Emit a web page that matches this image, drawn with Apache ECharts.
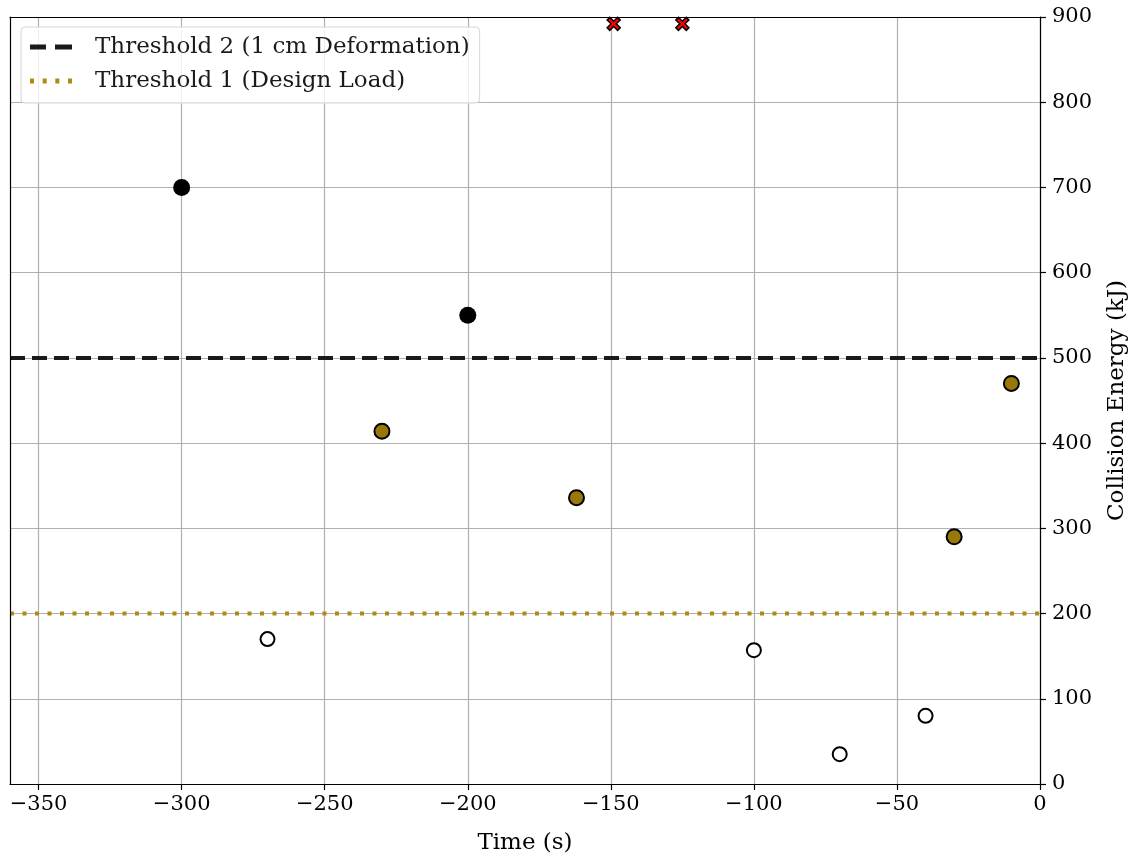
<!DOCTYPE html>
<html>
<head>
<meta charset="utf-8">
<script src="https://cdn.jsdelivr.net/npm/echarts@6.0.0/dist/echarts.min.js"></script>
<style>
html,body{margin:0;padding:0;background:#fff;}
#chart{width:1138px;height:856px;}
</style>
</head>
<body>
<div id="chart"></div>
<script>
// Data
const xTicks = [-350, -300, -250, -200, -150, -100, -50, 0];
const yTicks = [0, 100, 200, 300, 400, 500, 600, 700, 800, 900];
const blackPts = [[-300, 700], [-200, 550]];
const goldPts = [[-230, 414], [-162, 336], [-30, 290], [-10, 470]];
const hollowPts = [[-270, 170], [-100, 157], [-70, 35], [-40, 80]];
const redPts = [[-149, 892], [-125, 892]];
const threshold2 = 500;
const threshold1 = 200;
const xRange = [-360, 0];
const yRange = [0, 900];
const threshold2Label = 'Threshold 2 (1 cm Deformation)';
const threshold1Label = 'Threshold 1 (Design Load)';

const FONT = '"DejaVu Serif", serif';
const minus = v => String(v).replace('-', '\u2212');
const xPath = 'path://M2,0 L5,3 L8,0 L10,2 L7,5 L10,8 L8,10 L5,7 L2,10 L0,8 L3,5 L0,2 Z';
const dashIcon = 'path://M0,0H16V5H0Z M25,0H42V5H25Z';
const dotIcon = 'path://M0,0H4V5H0Z M12.7,0H16.7V5H12.7Z M25.3,0H29.3V5H25.3Z M38,0H42V5H38Z';

const chart = echarts.init(document.getElementById('chart'), null, {renderer: 'canvas'});
chart.setOption({
  animation: false,
  backgroundColor: '#fff',
  grid: {left: 10, right: 98, top: 17, bottom: 72, show: false, containLabel: false, outerBoundsMode: 'none'},
  legend: {
    left: 21, top: 27,
    orient: 'vertical',
    data: [
      {name: threshold2Label, icon: dashIcon},
      {name: threshold1Label, icon: dotIcon}
    ],
    backgroundColor: 'rgba(255,255,255,0.8)',
    borderColor: '#d5d5d5', borderWidth: 1, borderRadius: 4,
    padding: [7, 10, 9, 9],
    itemWidth: 42, itemHeight: 5, itemGap: 8,
    textStyle: {fontFamily: FONT, fontSize: 23, lineHeight: 26, color: '#1a1a1a', padding: [0, 0, 0, 18]}
  },
  xAxis: [{
    type: 'value', min: xRange[0], max: xRange[1],
    interval: 50,
    name: 'Time (s)', nameLocation: 'middle', nameGap: 48,
    nameTextStyle: {fontFamily: FONT, fontSize: 23, color: '#000'},
    axisLine: {show: true, onZero: false, lineStyle: {color: '#000', width: 1.2}},
    axisTick: {show: true, inside: false, length: 6, lineStyle: {color: '#000', width: 1.2},
      customValues: xTicks},
    axisLabel: {fontFamily: FONT, fontSize: 21, color: '#000', margin: 10,
      customValues: xTicks, formatter: v => minus(v)},
    splitLine: {show: true, lineStyle: {color: '#b0b0b0', width: 1.2}},
    z: 1
  }, {
    type: 'value', position: 'top', min: xRange[0], max: xRange[1],
    axisLine: {show: true, onZero: false, lineStyle: {color: '#000', width: 1.2}},
    axisTick: {show: false}, axisLabel: {show: false}, splitLine: {show: false},
    z: 10
  }],
  yAxis: [{
    type: 'value', position: 'right', min: yRange[0], max: yRange[1], interval: 100,
    name: 'Collision Energy (kJ)', nameLocation: 'middle', nameGap: 66, nameRotate: 90,
    nameTextStyle: {fontFamily: FONT, fontSize: 23, color: '#000'},
    axisLine: {show: true, lineStyle: {color: '#000', width: 1.2}},
    axisTick: {show: true, inside: false, length: 6, lineStyle: {color: '#000', width: 1.2}},
    axisLabel: {fontFamily: FONT, fontSize: 21, color: '#000', margin: 12},
    splitLine: {show: true, lineStyle: {color: '#b0b0b0', width: 1.2}},
    z: 1
  }, {
    type: 'value', position: 'left', min: yRange[0], max: yRange[1],
    axisLine: {show: true, onZero: false, lineStyle: {color: '#000', width: 1.2}},
    axisTick: {show: false}, axisLabel: {show: false}, splitLine: {show: false},
    z: 10
  }],
  series: [
    {
      name: threshold2Label, type: 'line', symbol: 'none', z: 3,
      data: [[xRange[0], threshold2], [xRange[1], threshold2]],
      lineStyle: {color: '#1a1a1a', width: 4, type: [15, 7]},
      itemStyle: {color: '#1a1a1a'}
    },
    {
      name: threshold1Label, type: 'line', symbol: 'none', z: 3,
      data: [[xRange[0], threshold1], [xRange[1], threshold1]],
      lineStyle: {color: '#b08a14', width: 4, type: [4, 8.5]},
      itemStyle: {color: '#b08a14'}
    },
    {
      type: 'scatter', z: 4, symbol: 'circle', symbolSize: 17,
      data: blackPts,
      itemStyle: {color: '#000', borderColor: '#000', borderWidth: 0, opacity: 1}
    },
    {
      type: 'scatter', z: 4, symbol: 'circle', symbolSize: 15,
      data: goldPts,
      itemStyle: {color: '#98780a', borderColor: '#000', borderWidth: 2, opacity: 1}
    },
    {
      type: 'scatter', z: 4, symbol: 'circle', symbolSize: 14,
      data: hollowPts,
      itemStyle: {color: '#fff', borderColor: '#000', borderWidth: 2, opacity: 1}
    },
    {
      type: 'scatter', z: 5, symbol: xPath, symbolSize: 13,
      data: redPts,
      itemStyle: {color: '#ff0000', borderColor: '#000', borderWidth: 1.5, opacity: 1}
    }
  ]
});
</script>
</body>
</html>
